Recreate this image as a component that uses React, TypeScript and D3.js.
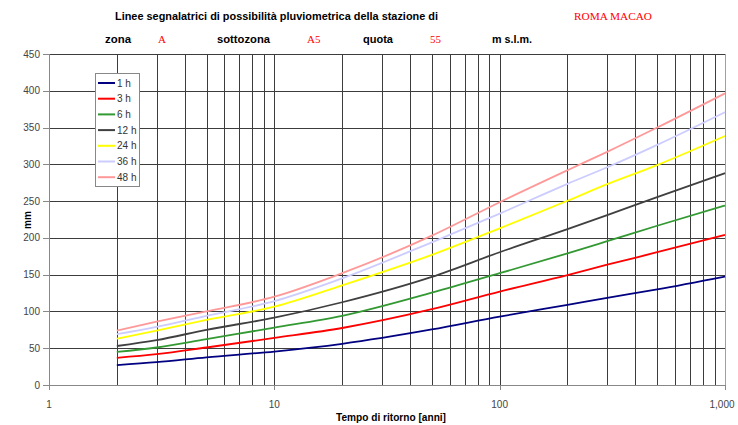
import React from 'react';
import * as d3 from 'd3';

const returnPeriods = [2, 3, 5, 10, 20, 50, 100, 200, 300, 500, 1000];
const h1 = [27, 31, 37.6, 45.5, 56, 75.5, 93, 109, 118.5, 130, 147.5];
const h3 = [37, 42, 51, 64, 77.5, 103, 127, 149.5, 163.5, 180.5, 204];
const h6 = [45, 51, 62.5, 78, 94, 125.5, 152, 179, 195.5, 216.5, 244];
const h12 = [53, 61, 75, 91.5, 112.5, 147, 180.5, 212, 231, 255.5, 288];
const h24 = [63, 74, 88.5, 106.5, 135.5, 177, 213, 250.5, 273, 299, 338.5];
const h36 = [69, 79, 94, 114, 145, 194, 233, 273.5, 296, 326.5, 371];
const h48 = [74, 86, 100, 120, 152, 203, 248.5, 292, 317, 350, 396.5];

const seriesNames = ['1 h', '3 h', '6 h', '12 h', '24 h', '36 h', '48 h'];
const seriesValues = [h1, h3, h6, h12, h24, h36, h48];
const seriesColors = ['#000080', '#ff0000', '#339933', '#404040', '#ffff00', '#ccccff', '#ff9999'];

const yTicks = [0, 50, 100, 150, 200, 250, 300, 350, 400, 450];
const xTickValues = [1, 10, 100, 1000];
const xTickLabels = ['1', '10', '100', '1,000'];

const W = 738;
const H = 425;
const L = 49, R = 725, T = 54, B = 385;

export default function App() {
  const x = d3.scaleLog().domain([1, 1000]).range([L, R]);
  const y = d3.scaleLinear().domain([0, 450]).range([B, T]);
  const snap = (v: number) => Math.round(v) + 0.5;

  const gridX: number[] = [];
  [1, 10, 100].forEach((dec) => {
    for (let k = 2; k <= 10; k++) gridX.push(k * dec);
  });

  const line = d3
    .line<[number, number]>()
    .x((d) => x(d[0]))
    .y((d) => y(d[1]))
    .curve(d3.curveMonotoneX);

  const sans = 'Arial, "Liberation Sans", sans-serif';
  const serif = '"Times New Roman", "Liberation Serif", serif';

  return (
    <svg
      width={W}
      height={H}
      style={{ position: 'fixed', left: 0, top: 0, background: '#fff' }}
      xmlns="http://www.w3.org/2000/svg"
    >
      <rect x={0} y={0} width={W} height={H} fill="#fff" />
      {/* title */}
      <text x={115} y={20} fontFamily={sans} fontWeight="bold" fontSize={11} fill="#000" textLength={323} lengthAdjust="spacingAndGlyphs">
        Linee segnalatrici di possibilità pluviometrica della stazione di
      </text>
      <text x={574} y={20} fontFamily={serif} fontSize={11} fill="#ff0000" textLength={78} lengthAdjust="spacingAndGlyphs">
        ROMA MACAO
      </text>
      <text x={105} y={43} fontFamily={sans} fontWeight="bold" fontSize={11} fill="#000" textLength={26} lengthAdjust="spacingAndGlyphs">zona</text>
      <text x={158} y={43} fontFamily={serif} fontSize={11} fill="#ff0000">A</text>
      <text x={217} y={43} fontFamily={sans} fontWeight="bold" fontSize={11} fill="#000" textLength={53} lengthAdjust="spacingAndGlyphs">sottozona</text>
      <text x={307} y={43} fontFamily={serif} fontSize={11} fill="#ff0000">A5</text>
      <text x={363} y={43} fontFamily={sans} fontWeight="bold" fontSize={11} fill="#000" textLength={30} lengthAdjust="spacingAndGlyphs">quota</text>
      <text x={430} y={43} fontFamily={serif} fontSize={11} fill="#ff0000">55</text>
      <text x={492} y={43} fontFamily={sans} fontWeight="bold" fontSize={11} fill="#000" textLength={40} lengthAdjust="spacingAndGlyphs">m s.l.m.</text>

      {/* horizontal gridlines */}
      {yTicks.filter((t) => t > 0).map((t) => (
        <line key={'h' + t} x1={L} x2={R} y1={snap(y(t))} y2={snap(y(t))} stroke="#3c3c3c" strokeWidth={1} />
      ))}
      {/* vertical gridlines */}
      {gridX.map((t) => (
        <line key={'v' + t} x1={snap(x(t))} x2={snap(x(t))} y1={T} y2={B} stroke={t === 1000 ? '#a0a0a0' : '#3c3c3c'} strokeWidth={1} />
      ))}

      {/* axes */}
      <line x1={snap(L)} x2={snap(L)} y1={T} y2={B + 4} stroke="#888" strokeWidth={1} />
      <line x1={L - 6} x2={R} y1={snap(B)} y2={snap(B)} stroke="#888" strokeWidth={1} />
      {yTicks.map((t) => (
        <g key={'yt' + t}>
          <line x1={L - 6} x2={L} y1={snap(y(t))} y2={snap(y(t))} stroke="#888" strokeWidth={1} />
          <text x={40} y={y(t) + 3.5} textAnchor="end" fontFamily={sans} fontSize={10} fill="#444">
            {t}
          </text>
        </g>
      ))}
      {xTickValues.map((t, i) => (
        <g key={'xt' + t}>
          <line x1={snap(x(t))} x2={snap(x(t))} y1={B} y2={B + 5} stroke="#888" strokeWidth={1} />
          <text x={x(t) - (i === 3 ? 3 : 0)} y={408} textAnchor="middle" fontFamily={sans} fontSize={10} fill="#444">
            {xTickLabels[i]}
          </text>
        </g>
      ))}

      {/* axis titles */}
      <text transform={`translate(31,220) rotate(-90)`} textAnchor="middle" fontFamily={sans} fontWeight="bold" fontSize={10} fill="#000">
        mm
      </text>
      <text x={391} y={421} textAnchor="middle" fontFamily={sans} fontWeight="bold" fontSize={10} fill="#000" textLength={110} lengthAdjust="spacingAndGlyphs">
        Tempo di ritorno [anni]
      </text>

      {/* series */}
      {seriesValues.map((vals, i) => (
        <path
          key={'s' + i}
          d={line(returnPeriods.map((t, j) => [t, vals[j]] as [number, number])) || ''}
          fill="none"
          stroke={seriesColors[i]}
          strokeWidth={1.8}
        />
      ))}

      {/* legend */}
      <rect x={95.5} y={73.5} width={44} height={113} fill="#fff" stroke="#888" strokeWidth={1} />
      {seriesNames.map((n, i) => {
        const cy = 83 + i * 15.7;
        return (
          <g key={'lg' + i}>
            <line x1={98} x2={115} y1={cy} y2={cy} stroke={seriesColors[i]} strokeWidth={2} />
            <text x={117} y={cy + 3.5} fontFamily={sans} fontSize={10} fill="#333">
              {n}
            </text>
          </g>
        );
      })}
    </svg>
  );
}
